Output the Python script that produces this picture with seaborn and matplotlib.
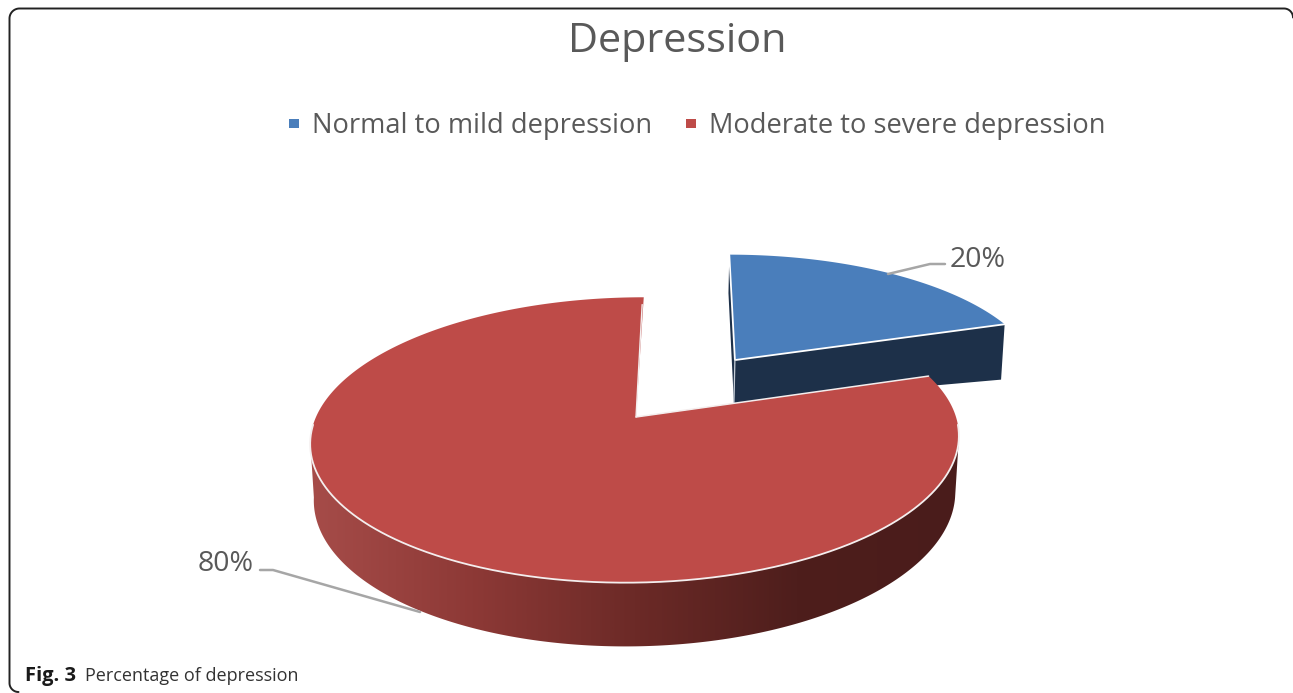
import numpy as np
import matplotlib
matplotlib.use("Agg")
import matplotlib.pyplot as plt
from matplotlib.patches import Polygon, Rectangle
import seaborn as sns

# Chart content
title = "Depression"
categories = ["Normal to mild depression", "Moderate to severe depression"]
percent_values = [20, 80]
caption_bold = "Fig. 3"
caption_text = "Percentage of depression"

# Colours
top_colors = ["#4a7ebb", "#be4b48"]
wall_color_blue = "#1d3049"
rim_ramp = ["#a64c49", "#8d3936", "#6c2a27", "#4e1e1c", "#4a1c1b"]
text_grey = "#595959"
leader_grey = "#a6a6a6"

# Camera for the tilted disc: unit-circle coordinates map to pixels
CX, CY = 636.0, 417.0
SCALE_U, SCALE_V, SKEW, TILT, SHRINK = 320.0, 139.0, 9.0, 0.161, 0.011
EXPLODE = 0.542
DEPTH = [(40.8, 16.4), (56.0, 0.0)]

sns.set_theme(style="white")
plt.rcParams["font.family"] = ["Open Sans", "DejaVu Sans"]

fig = plt.figure(figsize=(12.93, 6.93), dpi=100, facecolor="white")
ax = fig.add_axes([0, 0, 1, 1])
ax.set_xlim(0, 1293)
ax.set_ylim(693, 0)
ax.axis("off")


def project(u, v, z=0.0, depth=(56.0, 0.0)):
    """Project disc coordinates; z=0 is the top face, z=1 the underside."""
    u, v = np.asarray(u, float), np.asarray(v, float)
    w = 1 + TILT * v + SHRINK * z
    x = CX + (SCALE_U * u + SKEW * v) / w
    y = CY + (-SCALE_V * v + z * (depth[0] + depth[1] * u)) / w
    return np.column_stack([np.atleast_1d(x), np.atleast_1d(y)])


def rim(a0, a1, off=(0.0, 0.0), n=200):
    t = np.radians(np.linspace(a0, a1, n))
    return np.sin(t) + off[0], np.cos(t) + off[1]


# Slice angles run clockwise from twelve o'clock
shares = np.array(percent_values, float) / sum(percent_values)
edges = np.concatenate([[0], np.cumsum(shares) * 360])

# Exploded slice
a0, a1 = edges[0], edges[1]
mid = np.radians((a0 + a1) / 2)
off = (EXPLODE * np.sin(mid), EXPLODE * np.cos(mid))
du, dv = rim(a0, a1, off)
d = DEPTH[0]
apex_u, apex_v = off
start_u, start_v = du[0], dv[0]
end_u, end_v = du[-1], dv[-1]

left_face = np.vstack([
    project(start_u, start_v, 0, d), project(apex_u, apex_v, 0, d),
    project(apex_u, apex_v, 1, d), project(start_u, start_v, 1, d),
])
front_face = np.vstack([
    project(apex_u, apex_v, 0, d), project(end_u, end_v, 0, d),
    project(end_u, end_v, 1, d), project(apex_u, apex_v, 1, d),
])
ax.add_patch(Polygon(left_face, fc=wall_color_blue, ec="none", zorder=2))
ax.add_patch(Polygon(front_face, fc=wall_color_blue, ec="none", zorder=2))
blue_top = np.vstack([project(apex_u, apex_v, 0, d), project(du, dv, 0, d)])
ax.add_patch(Polygon(blue_top, fc=top_colors[0], ec="none", zorder=3))
ax.plot(*np.vstack([project(start_u, start_v, 0, d), project(apex_u, apex_v, 0, d),
                    project(end_u, end_v, 0, d)]).T, color="white", lw=1.3, zorder=4)
ax.plot(*np.vstack([project(apex_u, apex_v, 0, d), project(apex_u, apex_v, 1, d)]).T,
        color="#c4ccd6", lw=0.9, zorder=4)

# Main slice: shaded outer wall, then the top face over it
b0, b1 = edges[1], edges[2]
ru, rv = rim(b0, b1, n=721)
d = DEPTH[1]
top_edge = project(ru, rv, 0, d)
low_edge = project(ru, rv, 1, d)

# The wall is only visible on the near side of the widest point of the rim
near = rv < -TILT
wall_outline = np.vstack([top_edge[near], low_edge[near][::-1]])
wall_clip = Polygon(wall_outline, closed=True, transform=ax.transData, fc="none", ec="none")
ax.add_patch(wall_clip)
x_lo, x_hi = top_edge[:, 0].min(), top_edge[:, 0].max()
ramp = np.array(sns.blend_palette(rim_ramp, n_colors=512))[np.newaxis, :, :]
shade = ax.imshow(ramp, extent=(x_lo, x_hi, 693, 0), aspect="auto", zorder=5,
                  interpolation="bilinear")
shade.set_clip_path(wall_clip)
ax.set_xlim(0, 1293)
ax.set_ylim(693, 0)

red_top = np.vstack([project(0, 0, 0, d), top_edge])
ax.add_patch(Polygon(red_top, fc=top_colors[1], ec="none", zorder=6))

# White highlights along the visible rim and the cut faces
rim_xy = top_edge.copy()
rim_xy[rv > -0.05] = np.nan
ax.plot(rim_xy[:, 0], rim_xy[:, 1], color="#f4eeee", lw=1.3, zorder=7)
ax.plot(*np.vstack([project(0, 0), top_edge[0]]).T, color="#f4eeee", lw=1.1, zorder=7)
inner = np.vstack([project(0, 0), project(-0.004, 0.93)])
ax.plot(*inner.T, color="#f4eeee", lw=1.0, zorder=7)

# Leader lines and data labels
ax.plot([888, 930, 945], [274, 264, 264], color=leader_grey, lw=1.8, zorder=8,
        solid_capstyle="round")
ax.plot([260, 273, 420], [570, 570, 612], color=leader_grey, lw=1.8, zorder=8,
        solid_capstyle="round")
ax.text(977.5, 260, f"{percent_values[0]}%", color=text_grey, fontsize=20.5,
        ha="center", va="center", zorder=9)
ax.text(226, 564, f"{percent_values[1]}%", color=text_grey, fontsize=20.5,
        ha="center", va="center", zorder=9)

# Title and legend
ax.text(677, 42, title, color=text_grey, fontsize=29.8, ha="center", va="center")
for i, (x_mark, x_text) in enumerate([(294, 312), (691, 709)]):
    ax.add_patch(Rectangle((x_mark - 5, 119), 10, 9, fc=top_colors[i], ec="none"))
    ax.text(x_text, 126, categories[i], color=text_grey, fontsize=19.65,
            ha="left", va="center")

# Caption
ax.text(25, 676, caption_bold, color="#1a1a1a", fontsize=14.5, fontweight="bold",
        ha="left", va="center")
ax.text(85, 676, caption_text, color="#333333", fontsize=13, ha="left", va="center")

# Panel outline: left and top sides with rounded corners, open to the right and below
arc = np.radians(np.linspace(0, 90, 24))
r_big, r_small = 10.0, 9.0
left_x, top_y, right_x, low_y = 9.5, 8.5, 1293.0, 692.0
outline_x = np.concatenate([
    left_x + r_small - r_small * np.cos(arc[::-1]),
    left_x + r_big - r_big * np.cos(arc),
    [right_x - r_small],
    right_x - r_small + r_small * np.sin(arc),
])
outline_y = np.concatenate([
    low_y - r_small + r_small * np.sin(arc[::-1]),
    top_y + r_big - r_big * np.sin(arc),
    [top_y],
    top_y + r_small - r_small * np.cos(arc),
])
ax.plot(outline_x, outline_y, color="#222222", lw=1.4, zorder=1)

fig.savefig("out.png", dpi=100, facecolor="white")
